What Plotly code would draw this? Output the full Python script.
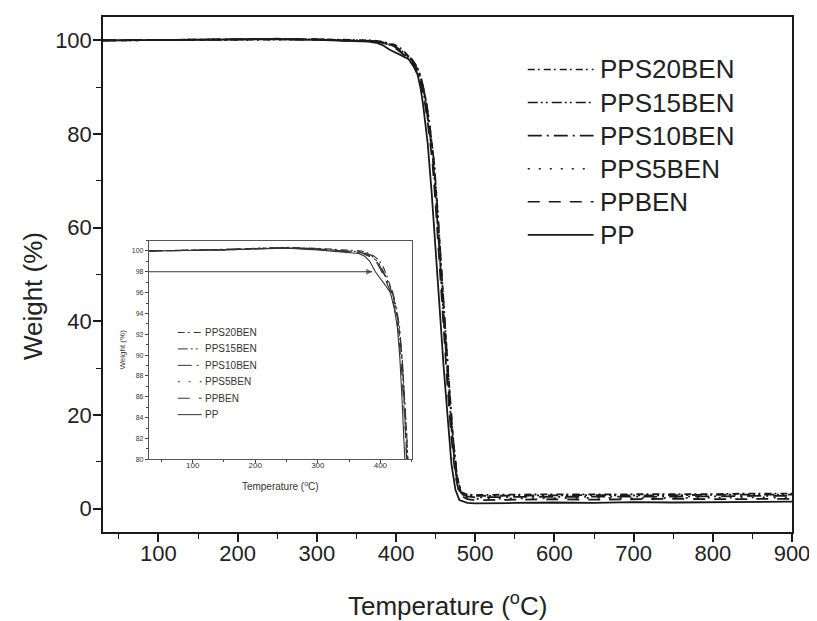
import plotly.graph_objects as go

# ---------------- data ----------------
series_names = ["PPS20BEN", "PPS15BEN", "PPS10BEN", "PPS5BEN", "PPBEN", "PP"]

temp_pp = [30, 100, 150, 200, 250, 300, 330, 350, 365, 375, 383, 392, 400, 408, 416,
           422, 427, 431, 434, 437, 440, 445, 450, 455, 460, 465, 470, 475, 480, 490,
           500, 550, 600, 650, 700, 750, 800, 850, 900]
w_pp = [100.0, 100.05, 100.1, 100.2, 100.25, 100.1, 99.95, 99.85, 99.75, 99.5, 99.0, 98.0,
        97.4, 96.7, 96.0, 94.5, 92.8, 89.8, 86.5, 82.5, 78.0, 67.5, 56.0, 43.0, 30.5, 19.0,
        9.5, 4.0, 1.8, 1.2, 1.1, 1.2, 1.3, 1.2, 1.4, 1.3, 1.4, 1.5, 1.5]

temp_ppben = [30, 100, 150, 200, 250, 300, 330, 350, 370, 385, 395, 402, 410, 417, 423,
              428, 433, 437, 440, 443, 446, 450, 455, 460, 465, 470, 475, 480, 490,
              500, 550, 600, 650, 700, 750, 800, 850, 900]
w_ppben = [100.0, 100.05, 100.1, 100.2, 100.3, 100.15, 100.0, 99.95, 99.8, 99.4, 98.8,
           98.0, 97.0, 96.0, 94.5, 92.5, 89.5, 86.0, 82.5, 78.5, 74.0, 65.0, 52.0, 38.5,
           26.0, 15.0, 7.0, 3.0, 2.0, 1.8, 1.9, 2.0, 1.9, 2.0, 2.1, 2.0, 2.1, 2.1]

temp_pps5 = [30, 100, 150, 200, 250, 300, 330, 350, 370, 385, 395, 403, 411, 418, 424,
             429, 434, 438, 441, 444, 447, 451, 456, 461, 466, 471, 476, 481, 490,
             500, 550, 600, 650, 700, 750, 800, 850, 900]
w_pps5 = [100.0, 100.05, 100.15, 100.25, 100.3, 100.2, 100.05, 99.95, 99.85, 99.5, 98.9,
          98.0, 97.0, 96.0, 94.5, 92.5, 89.5, 86.0, 82.5, 78.5, 74.0, 65.0, 52.0, 38.5,
          26.0, 15.0, 7.0, 3.0, 2.3, 2.1, 2.2, 2.2, 2.3, 2.2, 2.3, 2.3, 2.4, 2.3]

temp_pps10 = [30, 100, 150, 200, 250, 300, 330, 350, 370, 385, 396, 404, 412, 419, 425,
              430, 435, 438, 441, 444, 447, 451, 456, 461, 466, 471, 476, 481, 490,
              500, 550, 600, 650, 700, 750, 800, 850, 900]
w_pps10 = [100.0, 100.1, 100.15, 100.2, 100.3, 100.2, 100.05, 99.95, 99.85, 99.55, 98.9,
           98.0, 97.0, 96.0, 94.5, 92.5, 89.5, 86.0, 82.5, 78.5, 74.0, 65.0, 52.0, 38.5,
           26.0, 15.0, 7.0, 3.2, 2.6, 2.4, 2.5, 2.5, 2.6, 2.5, 2.6, 2.6, 2.7, 2.7]

temp_pps15 = [30, 100, 150, 200, 250, 300, 330, 350, 370, 385, 397, 405, 413, 420, 426,
              431, 435, 439, 442, 445, 448, 452, 457, 462, 467, 472, 477, 482, 490,
              500, 550, 600, 650, 700, 750, 800, 850, 900]
w_pps15 = [100.0, 100.05, 100.1, 100.25, 100.35, 100.2, 100.1, 100.0, 99.9, 99.6, 98.9,
           98.0, 97.0, 96.0, 94.5, 92.5, 89.5, 86.0, 82.5, 78.5, 74.0, 65.0, 52.0, 38.5,
           26.0, 15.0, 7.0, 3.4, 2.8, 2.7, 2.8, 2.8, 2.9, 2.8, 2.9, 2.9, 3.0, 3.0]

temp_pps20 = [30, 100, 150, 200, 250, 300, 330, 350, 370, 380, 390, 398, 405, 411, 419,
              425, 430, 435, 439, 442, 445, 448, 452, 457, 462, 467, 472, 477, 482, 490,
              500, 550, 600, 650, 700, 750, 800, 850, 900]
w_pps20 = [100.0, 100.05, 100.1, 100.2, 100.3, 100.25, 100.15, 100.1, 100.0, 99.8, 99.5,
           99.1, 98.4, 97.5, 96.0, 94.5, 92.5, 89.5, 86.0, 82.5, 78.5, 74.0, 65.0, 52.0, 38.5,
           26.0, 15.0, 7.0, 3.5, 3.0, 2.9, 3.0, 3.0, 3.1, 3.0, 3.1, 3.1, 3.2, 3.2]

temps = [temp_pps20, temp_pps15, temp_pps10, temp_pps5, temp_ppben, temp_pp]
weights = [w_pps20, w_pps15, w_pps10, w_pps5, w_ppben, w_pp]

main_xticks = [100, 200, 300, 400, 500, 600, 700, 800, 900]
main_yticks = [0, 20, 40, 60, 80, 100]
inset_xticks = [100, 200, 300, 400]
inset_yticks = [80, 82, 84, 86, 88, 90, 92, 94, 96, 98, 100]
arrow_temps = [30, 387]
arrow_levels = [98, 98]

# ---------------- styles ----------------
dashes = ["7px,3px,2px,4px", "10px,3px,2px,3px,2px,4px", "14px,5px,2px,5px",
          "2px,9px", "12px,9px", "solid"]
FONT = "Liberation Sans, Arial, sans-serif"
INK = "#1a1a1a"
TXT = "#222222"
INSET = "#333333"

fig = go.Figure()
for name, t, w, d in zip(series_names, temps, weights, dashes):
    fig.add_trace(go.Scatter(x=t, y=w, mode="lines", name=name, showlegend=False,
                             line=dict(color=INK, width=1.8, dash=d),
                             xaxis="x", yaxis="y"))
for name, t, w, d in zip(series_names, temps, weights, dashes):
    fig.add_trace(go.Scatter(x=t, y=w, mode="lines", name=name, showlegend=False,
                             line=dict(color=INSET, width=1.1, dash=d),
                             xaxis="x2", yaxis="y2"))

# arrow at 98 % in the inset
fig.add_trace(go.Scatter(x=arrow_temps, y=arrow_levels, mode="lines+markers",
                         showlegend=False, xaxis="x2", yaxis="y2",
                         line=dict(color=INSET, width=1),
                         marker=dict(symbol=["line-ns", "arrow-right"], size=[0, 6],
                                     color=INSET, line=dict(width=0))))

# ---------------- legends (drawn as shapes + text) ----------------
shapes = []
annos = []
ml_x0, ml_x1, ml_tx = 0.6165, 0.7120, 0.7180
ml_y_top, ml_step = (532 - 67.7) / 517, 33.2 / 517
for i, (name, d) in enumerate(zip(series_names, dashes)):
    yy = ml_y_top - i * ml_step
    shapes.append(dict(type="line", xref="paper", yref="paper", x0=ml_x0, x1=ml_x1,
                       y0=yy, y1=yy, line=dict(color=INK, width=1.6, dash=d)))
    annos.append(dict(xref="paper", yref="paper", x=ml_tx, y=yy, text=name,
                      showarrow=False, xanchor="left", yanchor="middle",
                      font=dict(family=FONT, size=26, color=TXT)))

il_x0, il_x1, il_tx = 0.1085, 0.1433, 0.1455
il_y_top, il_step = (532 - 331.7) / 517, 16.5 / 517
for i, (name, d) in enumerate(zip(series_names, dashes)):
    yy = il_y_top - i * il_step
    shapes.append(dict(type="line", xref="paper", yref="paper", x0=il_x0, x1=il_x1,
                       y0=yy, y1=yy, line=dict(color=INSET, width=1, dash=d)))
    annos.append(dict(xref="paper", yref="paper", x=il_tx, y=yy, text=name,
                      showarrow=False, xanchor="left", yanchor="middle",
                      font=dict(family=FONT, size=10, color=INSET)))

# main axis titles
annos.append(dict(xref="paper", yref="paper", x=(33 - 103) / 691, y=(532 - 295) / 517,
                  text="Weight (%)", textangle=-90, showarrow=False,
                  xanchor="center", yanchor="middle",
                  font=dict(family=FONT, size=26, color=TXT)))
annos.append(dict(xref="paper", yref="paper", x=(448 - 103) / 691, y=(532 - 605) / 517,
                  text="Temperature (<sup>o</sup>C)", showarrow=False,
                  xanchor="center", yanchor="middle",
                  font=dict(family=FONT, size=26, color=TXT)))

for a in annos:
    fig.add_annotation(**a)

fig.update_layout(
    width=809, height=613,
    margin=dict(l=95, r=23, t=7, b=89),
    paper_bgcolor="white", plot_bgcolor="white",
    font=dict(family=FONT, color=INK),
    shapes=shapes,
    xaxis=dict(range=[30, 900], tickvals=main_xticks, ticks="outside", ticklen=8,
               tickwidth=1.5, tickcolor=INK, showline=True, linecolor=INK, linewidth=1.5,
               mirror=True, showgrid=False, zeroline=False, ticklabelstandoff=-7,
               minor=dict(dtick=50, tick0=0, ticks="outside", ticklen=5, tickcolor=INK,
                          tickwidth=1.2, showgrid=False),
               tickfont=dict(size=22, color=TXT)),
    yaxis=dict(range=[-5, 105], tickvals=main_yticks, ticks="outside", ticklen=8,
               tickwidth=1.5, tickcolor=INK, showline=True, linecolor=INK, linewidth=1.5,
               mirror=True, showgrid=False, zeroline=False, ticklabelstandoff=-3,
               minor=dict(dtick=10, tick0=0, ticks="outside", ticklen=5, tickcolor=INK,
                          tickwidth=1.2, showgrid=False),
               tickfont=dict(size=22, color=TXT)),
    xaxis2=dict(domain=[0.0666, 0.448], anchor="y2", range=[30, 450],
                tickvals=inset_xticks, ticks="outside", ticklen=3, tickcolor="#444444",
                showline=True, linecolor="#555555", linewidth=1, mirror=True,
                showgrid=False, zeroline=False, ticklabelstandoff=-5,
                minor=dict(dtick=50, tick0=0, ticks="outside", ticklen=2,
                           tickcolor="#444444", showgrid=False),
                tickfont=dict(size=8, color=INSET),
                title=dict(text="Temperature (<sup>o</sup>C)", font=dict(size=10, color=INSET),
                           standoff=14)),
    yaxis2=dict(domain=[0.1412, 0.566], anchor="x2", range=[80, 101],
                tickvals=inset_yticks, ticks="outside", ticklen=3, tickcolor="#444444",
                showline=True, linecolor="#555555", linewidth=1, mirror=True,
                showgrid=False, zeroline=False,
                minor=dict(dtick=1, tick0=0, ticks="outside", ticklen=2,
                           tickcolor="#444444", showgrid=False),
                tickfont=dict(size=7, color=INSET),
                title=dict(text="Weight (%)", font=dict(size=8, color=INSET),
                           standoff=4)),
)

fig.write_html("out.html")
